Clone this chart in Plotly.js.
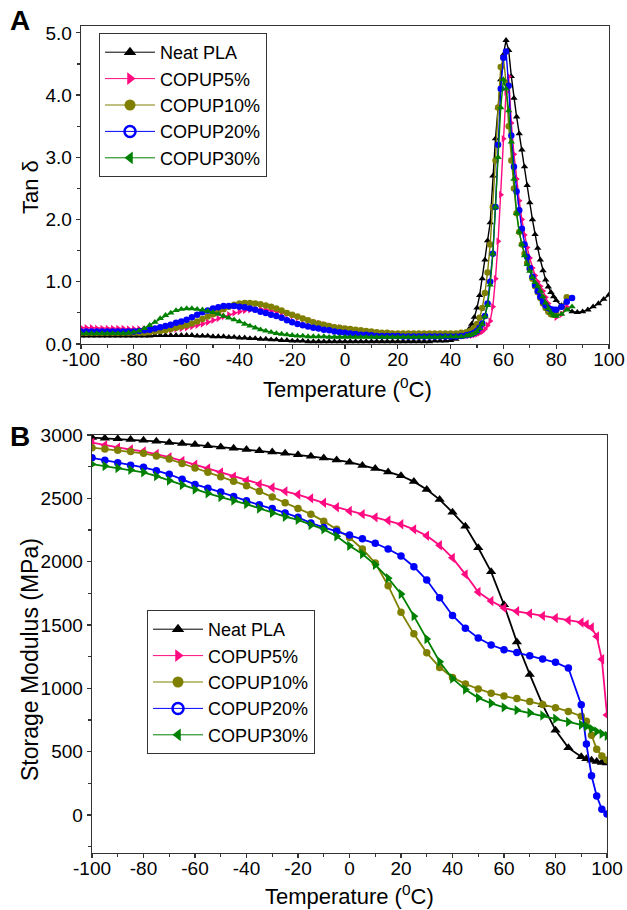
<!DOCTYPE html>
<html>
<head>
<meta charset="utf-8">
<script src="https://cdn.plot.ly/plotly-3.0.1.min.js"></script>
<style>html,body{margin:0;padding:0;background:#fff;}#chart{width:627px;height:910px;}</style>
</head>
<body>
<div id="chart"></div>
<script>
// ---------- Panel A: Tan delta vs temperature ----------
const tempA = [-100,-98,-96,-94,-92,-90,-88,-86,-84,-82,-80,-78,-76,-74,-72,-70,-68,-66,-64,-62,
  -60,-58,-56,-54,-52,-50,-48,-46,-44,-42,-40,-38,-36,-34,-32,-30,-28,-26,-24,-22,
  -20,-18,-16,-14,-12,-10,-8,-6,-4,-2,0,2,4,6,8,10,12,14,16,18,
  20,22,24,26,28,30,32,34,36,38,40,42,44,46,
  47,48,49,50,51,52,53,54,55,56,57,58,59,60,61,62,63,64,65,66,67,68,69,70,71,72,73,74,75,76,77,78,79,80,
  82,84,86];
const tempA_neatExtra = [88,90,92,94,96,98,100];

const tanNeat = [0.13,0.13,0.13,0.13,0.13,0.13,0.13,0.13,0.13,0.13,0.13,0.13,0.13,0.13,0.14,0.14,0.14,0.14,0.14,0.14,
  0.14,0.14,0.13,0.13,0.13,0.12,0.12,0.12,0.11,0.11,0.10,0.10,0.09,0.09,0.08,0.08,0.07,0.07,0.06,0.06,
  0.05,0.05,0.05,0.04,0.04,0.04,0.04,0.04,0.04,0.04,0.04,0.04,0.04,0.04,0.04,0.04,0.04,0.04,0.04,0.04,
  0.04,0.04,0.04,0.04,0.04,0.04,0.04,0.05,0.05,0.05,0.06,0.08,0.11,0.17,
  0.24,0.32,0.43,0.58,0.78,1.05,1.35,1.66,1.95,2.70,3.30,3.80,4.25,4.65,4.88,4.72,4.30,3.95,3.65,3.38,3.12,2.85,2.55,2.27,2.00,1.76,1.54,1.35,1.18,1.03,0.92,0.83,0.76,0.70,
  0.62,0.56,0.52,
  0.51,0.52,0.55,0.60,0.65,0.72,0.79];
const tanCOPUP5 = [0.26,0.26,0.26,0.25,0.25,0.25,0.25,0.25,0.25,0.24,0.24,0.24,0.24,0.23,0.23,0.23,0.23,0.23,0.24,0.25,
  0.26,0.28,0.30,0.32,0.35,0.38,0.41,0.44,0.47,0.50,0.52,0.54,0.55,0.56,0.56,0.55,0.54,0.52,0.50,0.48,
  0.45,0.42,0.40,0.37,0.35,0.33,0.31,0.29,0.27,0.26,0.24,0.23,0.21,0.20,0.19,0.18,0.17,0.17,0.16,0.16,
  0.15,0.15,0.15,0.15,0.15,0.15,0.14,0.14,0.14,0.14,0.14,0.14,0.14,0.14,
  0.14,0.14,0.15,0.16,0.18,0.20,0.24,0.30,0.37,0.60,1.05,1.65,2.40,3.30,4.05,4.30,3.55,3.05,2.65,2.30,2.00,1.75,1.55,1.38,1.22,1.10,1.00,0.93,0.85,0.75,0.65,0.55,0.48,0.43,
  0.48,0.60,null];
const tanCOPUP10 = [0.18,0.18,0.18,0.18,0.18,0.18,0.18,0.18,0.18,0.18,0.18,0.18,0.18,0.19,0.20,0.21,0.22,0.24,0.26,0.28,
  0.30,0.33,0.36,0.40,0.44,0.48,0.52,0.56,0.60,0.63,0.65,0.66,0.66,0.65,0.64,0.62,0.60,0.57,0.54,0.50,
  0.47,0.44,0.41,0.38,0.35,0.33,0.31,0.29,0.27,0.26,0.25,0.24,0.23,0.22,0.21,0.20,0.19,0.18,0.18,0.17,
  0.17,0.17,0.17,0.17,0.17,0.17,0.17,0.17,0.17,0.17,0.17,0.17,0.18,0.19,
  0.20,0.22,0.26,0.32,0.42,0.58,0.82,1.15,1.60,2.20,2.95,3.80,4.45,4.60,4.20,3.50,2.95,2.50,2.10,1.80,1.60,1.45,1.30,1.20,1.05,0.93,0.83,0.74,0.65,0.58,0.52,0.48,0.47,0.48,
  0.60,0.75,null];
const tanCOPUP20 = [0.20,0.20,0.20,0.20,0.20,0.20,0.20,0.20,0.20,0.20,0.20,0.21,0.22,0.23,0.25,0.27,0.29,0.31,0.34,0.36,
  0.39,0.43,0.47,0.51,0.54,0.57,0.59,0.61,0.61,0.61,0.60,0.59,0.57,0.55,0.52,0.50,0.47,0.45,0.42,0.38,
  0.35,0.32,0.30,0.28,0.26,0.25,0.23,0.22,0.20,0.19,0.18,0.17,0.16,0.15,0.15,0.14,0.13,0.13,0.13,0.13,
  0.13,0.12,0.12,0.12,0.12,0.12,0.12,0.12,0.12,0.12,0.12,0.12,0.13,0.14,
  0.15,0.16,0.18,0.21,0.26,0.33,0.45,0.65,1.00,1.45,2.20,3.20,4.10,4.60,4.70,4.15,3.35,2.85,2.45,2.15,1.85,1.60,1.40,1.22,1.08,0.95,0.85,0.76,0.68,0.62,0.58,0.56,0.55,0.55,
  0.60,0.68,0.74];
const tanCOPUP30 = [0.17,0.17,0.17,0.17,0.17,0.17,0.17,0.17,0.17,0.18,0.19,0.21,0.25,0.30,0.35,0.41,0.46,0.50,0.54,0.56,
  0.57,0.57,0.56,0.55,0.53,0.51,0.48,0.45,0.42,0.39,0.36,0.32,0.29,0.26,0.23,0.21,0.19,0.17,0.16,0.15,
  0.14,0.13,0.13,0.12,0.12,0.12,0.12,0.11,0.11,0.11,0.11,0.11,0.11,0.11,0.11,0.11,0.11,0.11,0.11,0.11,
  0.11,0.11,0.11,0.11,0.11,0.11,0.11,0.11,0.11,0.12,0.12,0.12,0.12,0.13,
  0.14,0.15,0.17,0.20,0.25,0.32,0.44,0.62,0.95,1.45,2.20,3.00,3.80,4.25,4.10,3.75,3.25,2.65,2.10,1.80,1.60,1.42,1.28,1.17,1.07,0.99,0.93,0.85,0.76,0.66,0.57,0.50,0.46,0.45,
  0.48,0.55,0.60];

// ---------- Panel B: Storage modulus vs temperature ----------
const tempB = [-100,-95,-90,-85,-80,-75,-70,-65,-60,-55,-50,-45,-40,-35,-30,-25,-20,-15,-10,-5,
  0,5,10,15,20,25,30,35,40,45,50,55,60,65,70,75,80,85,90,92,94,96,98,100];
const modNeat = [2980,2975,2970,2965,2958,2950,2940,2932,2925,2915,2905,2895,2885,2875,2865,2855,2845,2832,2818,2802,
  2785,2760,2735,2708,2678,2632,2570,2490,2390,2280,2110,1920,1660,1365,1110,870,670,530,460,445,432,422,415,410];
const modCOPUP5 = [2940,2920,2900,2885,2870,2850,2825,2795,2765,2735,2705,2670,2640,2612,2585,2555,2530,2500,2465,2430,
  2400,2375,2350,2325,2295,2255,2205,2130,2030,1900,1760,1690,1635,1608,1590,1572,1555,1538,1520,1505,1480,1410,1230,790];
const modCOPUP10 = [2900,2890,2880,2870,2855,2835,2810,2775,2740,2705,2670,2635,2600,2555,2510,2465,2420,2375,2320,2255,
  2190,2100,1990,1810,1600,1430,1280,1165,1085,1035,995,962,940,920,897,872,847,818,780,740,630,520,465,435];
const modCOPUP20 = [2820,2800,2780,2762,2745,2718,2690,2650,2610,2580,2550,2515,2480,2450,2420,2385,2350,2305,2270,2240,
  2210,2180,2145,2100,2045,1960,1855,1715,1575,1475,1398,1342,1305,1282,1258,1232,1205,1160,870,560,310,150,45,8];
const modCOPUP30 = [2770,2755,2740,2725,2705,2675,2640,2605,2570,2540,2510,2482,2455,2420,2385,2355,2330,2290,2255,2200,
  2125,2060,1975,1870,1745,1570,1390,1210,1078,990,925,882,850,828,807,785,760,735,712,700,680,660,642,625];

const xTickVals = [-100,-80,-60,-40,-20,0,20,40,60,80,100];
const xTickText = ['-100','-80','-60','-40','-20','0','20','40','60','80','100'];
const seriesNames = ['Neat PLA','COPUP5%','COPUP10%','COPUP20%','COPUP30%'];
const colors = ['#000000','#ff0a80','#808000','#0000ff','#008000'];
const legendSymbols = ['triangle-up','triangle-right','circle','circle-open','triangle-left'];
const symbolsA = ['triangle-up','triangle-right','circle','circle','triangle-up'];
const symbolsB = ['triangle-up','triangle-left','circle','circle','triangle-right'];
const xTitle = 'Temperature (<sup>0</sup>C)';

const tempA_neat = tempA.concat(tempA_neatExtra);
const dataA = [[tempA_neat,tanNeat],[tempA,tanCOPUP5],[tempA,tanCOPUP10],[tempA,tanCOPUP20],[tempA,tanCOPUP30]];
const dataB = [modNeat,modCOPUP5,modCOPUP10,modCOPUP20,modCOPUP30];

const traces = [];
dataA.forEach((d,i)=>{
  traces.push({x:d[0], y:d[1], xaxis:'x', yaxis:'y', mode:'lines+markers', showlegend:false,
    line:{color:colors[i], width:1.4}, marker:{symbol:symbolsA[i], size:6.5, color:colors[i]}});
});
dataB.forEach((d,i)=>{
  const isCircle = symbolsB[i]==='circle';
  traces.push({x:tempB, y:d, xaxis:'x2', yaxis:'y2', mode:'lines+markers', showlegend:false,
    line:{color:colors[i], width:1.8}, marker:{symbol:symbolsB[i], size:isCircle?7.5:9, color:colors[i]}});
});
// legend entries
['legend','legend2'].forEach((lg,k)=>{
  seriesNames.forEach((n,i)=>{
    traces.push({x:[null], y:[null], xaxis:k?'x2':'x', yaxis:k?'y2':'y', name:n, legend:lg,
      mode:'lines+markers', line:{color:colors[i], width:1},
      marker:{symbol:legendSymbols[i], size:11, color:colors[i], line:{color:colors[i], width:i===3?2.5:0}}});
  });
});

const axBase = {ticks:'outside', ticklen:4, tickwidth:1.2, tickcolor:'#333', showline:true, linecolor:'#333',
  linewidth:1.3, mirror:true, showgrid:false, zeroline:false, tickfont:{size:19, color:'#000'}};
const W = 627, H = 910;
const px = v => v/W, py = v => (H-v)/H;
const layout = {
  width:W, height:H, margin:{l:0,r:0,t:0,b:0}, paper_bgcolor:'#fff', plot_bgcolor:'#fff',
  font:{family:'"Liberation Sans", Arial, sans-serif', size:19, color:'#000'},
  xaxis:Object.assign({}, axBase, {domain:[px(81), px(609)], range:[-100,100], anchor:'y',
    tickmode:'array', tickvals:xTickVals, ticktext:xTickText, ticklabelstandoff:-6,
    minor:{dtick:10, tick0:0, ticks:'outside', ticklen:3, tickcolor:'#333'}}),
  yaxis:Object.assign({}, axBase, {domain:[py(344), py(26)], range:[0,5.11], anchor:'x', dtick:1, tick0:0, tickformat:'.1f',
    minor:{dtick:0.5, ticks:'outside', ticklen:3, tickcolor:'#333'}}),
  xaxis2:Object.assign({}, axBase, {domain:[px(92), px(607)], range:[-100,100], anchor:'y2',
    tickmode:'array', tickvals:xTickVals, ticktext:xTickText, ticklabelstandoff:-6,
    minor:{dtick:10, tick0:0, ticks:'outside', ticklen:3, tickcolor:'#333'}}),
  yaxis2:Object.assign({}, axBase, {domain:[py(853), py(435)], range:[-300,3000], anchor:'x2', dtick:500, tick0:0,
    minor:{dtick:250, ticks:'outside', ticklen:3, tickcolor:'#333'}}),
  legend:{x:px(99), y:py(33), xanchor:'left', yanchor:'top', bgcolor:'#fff', bordercolor:'#333', borderwidth:1,
    font:{size:18}, itemwidth:50, tracegroupgap:0},
  legend2:{x:px(147), y:py(610), xanchor:'left', yanchor:'top', bgcolor:'#fff', bordercolor:'#333', borderwidth:1,
    font:{size:18}, itemwidth:50, tracegroupgap:0},
  annotations:[
    {text:'<b>A</b>', xref:'paper', yref:'paper', x:px(8), y:py(3), xanchor:'left', yanchor:'top', showarrow:false, font:{size:28}},
    {text:'<b>B</b>', xref:'paper', yref:'paper', x:px(8), y:py(419), xanchor:'left', yanchor:'top', showarrow:false, font:{size:28}},
    {text:xTitle, xref:'paper', yref:'paper', x:px(347), y:py(388), xanchor:'center', yanchor:'middle', showarrow:false, font:{size:22}},
    {text:xTitle, xref:'paper', yref:'paper', x:px(349), y:py(895), xanchor:'center', yanchor:'middle', showarrow:false, font:{size:22}},
    {text:'Tan δ', xref:'paper', yref:'paper', x:px(30), y:py(187), xanchor:'center', yanchor:'middle', textangle:-90, showarrow:false, font:{size:22}},
    {text:'Storage Modulus (MPa)', xref:'paper', yref:'paper', x:px(30), y:py(660), xanchor:'center', yanchor:'middle', textangle:-90, showarrow:false, font:{size:23}}
  ]
};
Plotly.newPlot('chart', traces, layout, {staticPlot:true, displayModeBar:false});
</script>
</body>
</html>
